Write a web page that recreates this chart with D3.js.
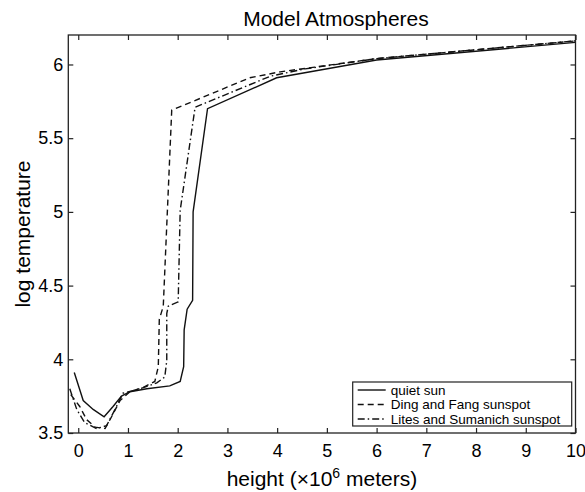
<!DOCTYPE html>
<html>
<head>
<meta charset="utf-8">
<script src="https://cdn.jsdelivr.net/npm/d3@7"></script>
<style>
  body { margin: 0; background: #fff; }
  text { font-family: "Liberation Sans", Arial, sans-serif; fill: #000; }
</style>
</head>
<body>
<div id="chart"></div>
<script>
// data: height (10^6 m) vs log temperature
const quietSun = [
  [-0.08, 3.91], [0.1, 3.72], [0.3, 3.66], [0.52, 3.61], [0.7, 3.68],
  [0.87, 3.75], [1.04, 3.78], [1.38, 3.80], [1.84, 3.82], [2.05, 3.85],
  [2.12, 3.95], [2.13, 4.2], [2.19, 4.34], [2.30, 4.40], [2.31, 5.0],
  [2.60, 5.70], [3.99, 5.91], [6.0, 6.03], [10, 6.15]
];
const dingFang = [
  [-0.15, 3.76], [0.03, 3.68], [0.17, 3.59], [0.34, 3.54], [0.54, 3.53],
  [0.67, 3.61], [0.84, 3.72], [1.04, 3.78], [1.31, 3.81], [1.54, 3.85],
  [1.61, 3.95], [1.63, 4.27], [1.71, 4.36], [1.88, 5.69], [3.45, 5.91],
  [4.06, 5.95], [6.0, 6.04], [10, 6.16]
];
const litesSumanich = [
  [-0.17, 3.80], [-0.03, 3.66], [0.13, 3.57], [0.37, 3.53], [0.57, 3.55],
  [0.74, 3.66], [0.9, 3.77], [1.24, 3.80], [1.58, 3.84], [1.74, 3.88],
  [1.78, 3.99], [1.78, 4.31], [1.81, 4.36], [2.01, 4.39], [2.05, 5.01],
  [2.35, 5.71], [3.86, 5.92], [4.56, 5.97], [6.0, 6.04], [10, 6.16]
];
const seriesNames = ["quiet sun", "Ding and Fang sunspot", "Lites and Sumanich sunspot"];
const xTicks = [0, 1, 2, 3, 4, 5, 6, 7, 8, 9, 10];
const yTicks = [3.5, 4, 4.5, 5, 5.5, 6];

const width = 585, height = 492;
const margin = {top: 35, right: 9.5, bottom: 59, left: 68.3};

const svg = d3.select("#chart").append("svg")
  .attr("width", width)
  .attr("height", height);

const x = d3.scaleLinear().domain([-0.2, 10]).range([margin.left, width - margin.right]);
const y = d3.scaleLinear().domain([3.5, 6.2]).range([height - margin.bottom, margin.top]);

const styles = [
  {dash: null},
  {dash: "6,4"},
  {dash: "7,3,1.5,3"}
];

const line = d3.line().x(d => x(d[0])).y(d => y(d[1]));

[quietSun, dingFang, litesSumanich].forEach((s, i) => {
  svg.append("path")
    .datum(s)
    .attr("d", line)
    .attr("fill", "none")
    .attr("stroke", "#111")
    .attr("stroke-width", 1.4)
    .attr("stroke-dasharray", styles[i].dash);
});

// axes, MATLAB style: ticks pointing inward on all four sides
const fmt = d => String(d);
svg.append("g")
  .attr("transform", `translate(0,${y.range()[0]})`)
  .call(d3.axisBottom(x).tickValues(xTicks).tickFormat(fmt).tickSizeInner(-5).tickSizeOuter(0).tickPadding(11))
  .call(g => g.selectAll("text").style("font-size", "18px"));
svg.append("g")
  .attr("transform", `translate(0,${y.range()[1]})`)
  .call(d3.axisTop(x).tickValues(xTicks).tickFormat("").tickSizeInner(-5).tickSizeOuter(0));
svg.append("g")
  .attr("transform", `translate(${x.range()[0]},0)`)
  .call(d3.axisLeft(y).tickValues(yTicks).tickFormat(fmt).tickSizeInner(-5).tickSizeOuter(0).tickPadding(5))
  .call(g => g.selectAll("text").style("font-size", "18px"));
svg.append("g")
  .attr("transform", `translate(${x.range()[1]},0)`)
  .call(d3.axisRight(y).tickValues(yTicks).tickFormat("").tickSizeInner(-5).tickSizeOuter(0));

svg.selectAll(".domain").remove();
svg.selectAll(".tick line").attr("stroke", "#222").attr("stroke-width", 1.2);

svg.append("rect")
  .attr("x", x.range()[0]).attr("y", y.range()[1])
  .attr("width", x.range()[1] - x.range()[0])
  .attr("height", y.range()[0] - y.range()[1])
  .attr("fill", "none").attr("stroke", "#222").attr("stroke-width", 1.3);

// title and labels
const cx = (x.range()[0] + x.range()[1]) / 2;
svg.append("text")
  .attr("x", 336).attr("y", 26)
  .attr("text-anchor", "middle")
  .style("font-size", "21px")
  .text("Model Atmospheres");

const xl = svg.append("text")
  .attr("x", cx).attr("y", 486)
  .attr("text-anchor", "middle")
  .style("font-size", "21px");
xl.append("tspan").text("height (\u00d710");
xl.append("tspan").attr("dy", -8).style("font-size", "14px").text("6");
xl.append("tspan").attr("dy", 8).text(" meters)");

svg.append("text")
  .attr("transform", `translate(30,${(y.range()[0] + y.range()[1]) / 2}) rotate(-90)`)
  .attr("text-anchor", "middle")
  .style("font-size", "21px")
  .text("log temperature");

// legend
const lg = svg.append("g").attr("transform", "translate(352.7,382)");
lg.append("rect")
  .attr("width", 219).attr("height", 44)
  .attr("fill", "#fff").attr("stroke", "#222").attr("stroke-width", 1.2);
seriesNames.forEach((name, i) => {
  const ry = 8 + i * 14.5;
  lg.append("line")
    .attr("x1", 5).attr("x2", 33).attr("y1", ry).attr("y2", ry)
    .attr("stroke", "#111").attr("stroke-width", 1.4)
    .attr("stroke-dasharray", styles[i].dash);
  lg.append("text")
    .attr("x", 38).attr("y", ry).attr("dy", "0.35em")
    .style("font-size", "13.5px")
    .text(name);
});
</script>
</body>
</html>
